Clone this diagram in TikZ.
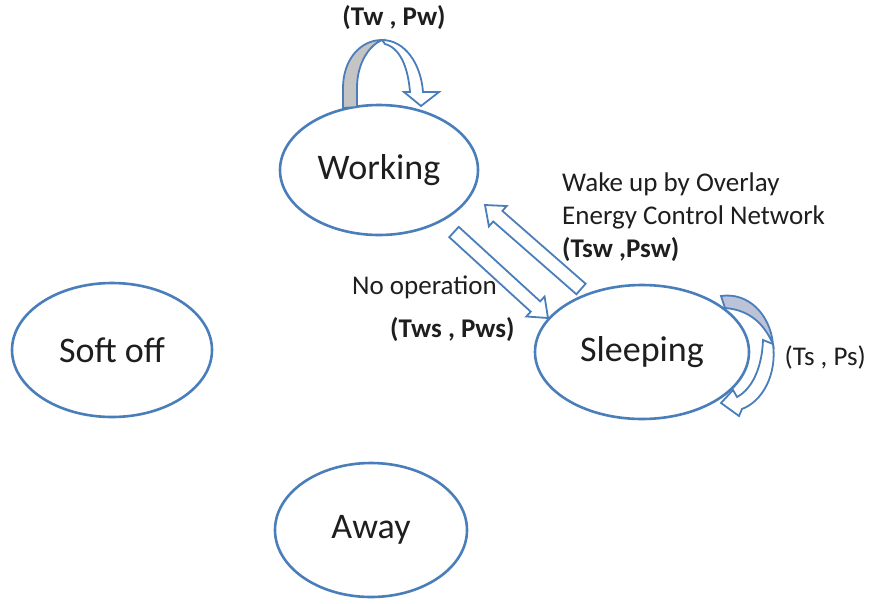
\documentclass[tikz,border=0pt]{standalone}
\usepackage{fontspec}
\setmainfont{Carlito}
\usetikzlibrary{shapes.geometric,calc}
\definecolor{edge}{RGB}{74,126,187}
\definecolor{ink}{RGB}{30,30,30}
\definecolor{fold}{RGB}{196,196,196}
\definecolor{foldb}{RGB}{188,194,216}
\newcommand\blockarrow[5]{%
  \path ($(#2)!#5!(#1)$) coordinate (hb);
  \draw[barrow] ($(#1)!#3!90:(#2)$) -- ($(hb)!#3!90:(#2)$) -- ($(hb)!#4!90:(#2)$) -- (#2)
    -- ($(hb)!#4!-90:(#2)$) -- ($(hb)!#3!-90:(#2)$) -- ($(#1)!#3!-90:(#2)$) -- cycle;}
\begin{document}
\begin{tikzpicture}[x=1pt,y=-1pt,
  state/.style={ellipse,draw=edge,line width=2.6pt,fill=white,inner sep=0pt,text=ink,
    font=\fontsize{36}{40}\selectfont},
  lab/.style={text=ink,font=\fontsize{27}{30}\selectfont,inner sep=0pt},
  blab/.style={text=ink,font=\fontsize{27}{30}\selectfont\bfseries,inner sep=0pt},
  barrow/.style={draw=edge,line width=1.8pt,fill=white,line join=miter}]
\useasboundingbox (0,0) rectangle (873,603);
\fill[white] (0,0) rectangle (873,603);

\node[state,minimum width=198pt,minimum height=130pt] (work) at (379,170) {Working};
\node[state,minimum width=200pt,minimum height=134pt] (soft) at (112,350) {Soft off};
\node[state,minimum width=214pt,minimum height=134pt] (sleep) at (642,352) {Sleeping};
\node[state,minimum width=192pt,minimum height=134pt] (away) at (371,530) {Away};

% block arrows between Working and Sleeping
\coordinate (a1s) at (454,232); \coordinate (a1e) at (548,318);
\coordinate (a2s) at (581,289); \coordinate (a2e) at (485,205);
\blockarrow{a1s}{a1e}{7pt}{13.5pt}{17pt}
\blockarrow{a2s}{a2e}{7pt}{13.5pt}{17pt}

% self loop on Working
\draw[barrow,fill=fold] (343,108) -- (343,88) .. controls (343,60) and (360,40) .. (382,40)
  .. controls (370,45) and (357,62) .. (357,88) -- (357,107) -- cycle;
\draw[barrow] (382,40) .. controls (405,40) and (421,64) .. (423,92) -- (439,92) -- (421,106)
  -- (404,92) -- (410,92) .. controls (408,67) and (400,48) .. (385,44) -- cycle;

% self loop on Sleeping
\draw[barrow,fill=foldb] (721,296) .. controls (748,292) and (770,314) .. (773,344)
  .. controls (764,324) and (750,310) .. (725,308) -- cycle;
\draw[barrow] (773,344) .. controls (777,374) and (763,401) .. (742,409) -- (739,416) -- (721,403)
  -- (733,390) -- (737,397) .. controls (752,389) and (762,368) .. (763,340) -- cycle;

% labels
\node[blab] (tw) at (394,18) {(Tw , Pw)};
\node[lab,anchor=west] (wake1) at (562,184) {Wake up by Overlay};
\node[lab,anchor=west] (wake2) at (562,217) {Energy Control Network};
\node[blab,anchor=west] (tsw) at (562,250) {(Tsw ,Psw)};
\node[lab,anchor=west] (noop) at (352,287) {No operation};
\node[blab,anchor=west] (tws) at (390,330) {(Tws , Pws)};
\node[lab,anchor=east] (ts) at (866,357) {(Ts , Ps)};
\end{tikzpicture}
\end{document}
